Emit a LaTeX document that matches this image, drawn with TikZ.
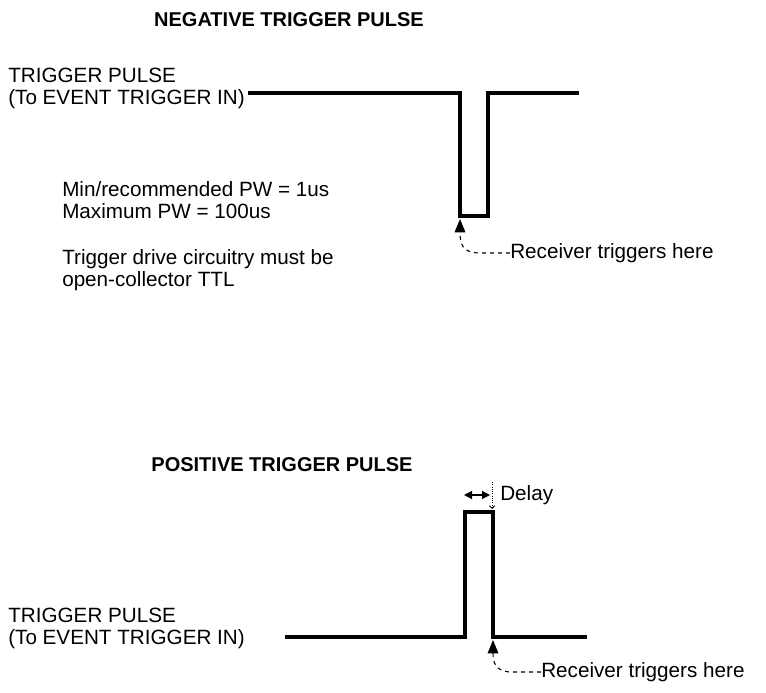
\documentclass[tikz,border=0pt]{standalone}
\usepackage{fontspec}
\setmainfont{Liberation Sans}
\usetikzlibrary{positioning,arrows.meta}

\begin{document}
\begin{tikzpicture}[x=0.75pt,y=-0.75pt,
  wave/.style={line width=3pt,line join=miter},
  lbl/.style={font=\fontsize{15.5}{16.5}\selectfont,inner sep=0pt,anchor=west,align=left},
  ttl/.style={font=\bfseries\fontsize{15}{17}\selectfont,inner sep=0pt},
  trig/.style={dashed,line width=0.8pt,-{Triangle[length=10pt,width=8pt]}}]
\useasboundingbox (0,0) rectangle (766,692);
% negative pulse
\node[ttl] (negttl) at (289,20) {NEGATIVE TRIGGER PULSE};
\node[lbl] (negin) at (8,88) {TRIGGER PULSE\\(To EVENT TRIGGER IN)};
\node[lbl] (pw) at (62,200) {Min/recommended PW = 1us\\Maximum PW = 100us};
\node[lbl] (ttl) at (62,270) {Trigger drive circuitry must be\\open-collector TTL};
\draw[wave] (248,93) -- (460,93) -- (460,216) -- (488,216) -- (488,93) -- (579,93);
\coordinate (tipneg) at (460,219);
\node[lbl] (rcvneg) at (510,253) {Receiver triggers here};
\draw[trig] (rcvneg.west) -- (480,253) .. controls (463,253) and (460,245) .. (tipneg);
% positive pulse
\node[ttl] (posttl) at (282,465) {POSITIVE TRIGGER PULSE};
\node[lbl] (posin) at (8,628) {TRIGGER PULSE\\(To EVENT TRIGGER IN)};
\draw[wave] (285,637) -- (465,637) -- (465,512) -- (493,512) -- (493,637) -- (587,637);
\coordinate (tippos) at (493,640);
\node[lbl] (rcvpos) at (541,672) {Receiver triggers here};
\draw[trig] (rcvpos.west) -- (510,672) .. controls (495,671) and (493,662) .. (tippos);
% delay marker
\coordinate (dl) at (464,495);
\coordinate (dr) at (490,495);
\draw[{Triangle[length=6pt,width=6pt]}-{Triangle[length=6pt,width=6pt]},line width=1pt] (dl) -- (dr);
\draw[densely dotted,line width=0.7pt,-{Straight Barb[length=2pt]}] (492,482) -- (492,509);
\node[lbl] (delay) at (500,495) {Delay};
\end{tikzpicture}
\end{document}
